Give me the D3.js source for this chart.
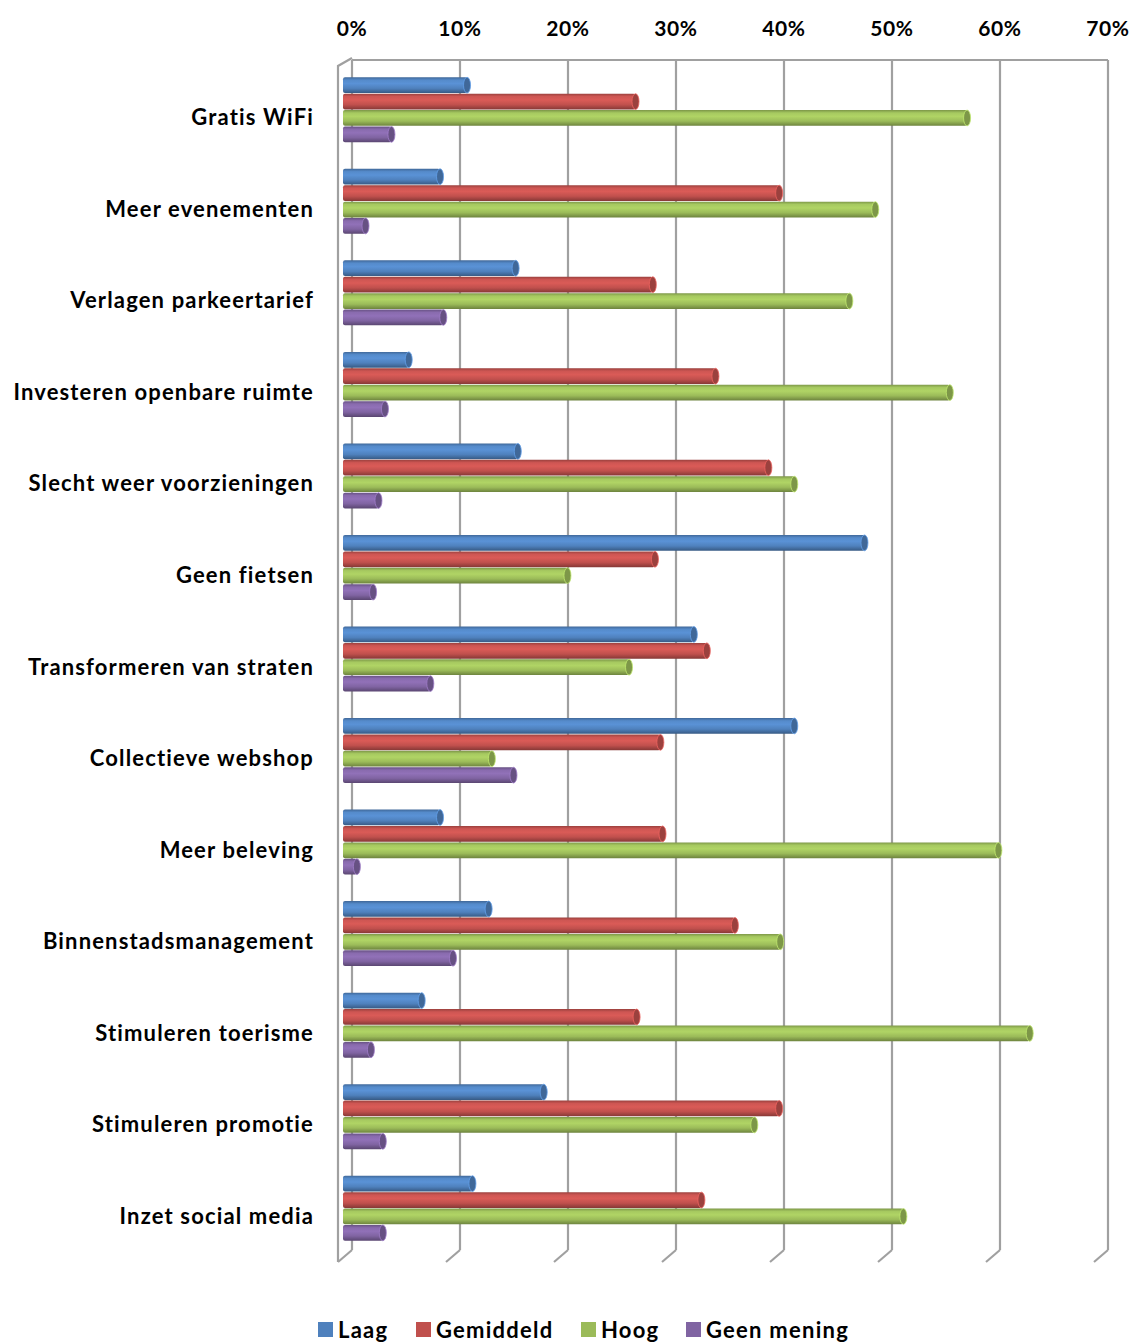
<!DOCTYPE html>
<html>
<head>
<meta charset="utf-8">
<script src="https://cdn.jsdelivr.net/npm/d3@7"></script>
<style>
  html, body { margin: 0; padding: 0; background: #fff; }
  svg { display: block; }
  text { font-family: Lato, "Open Sans", sans-serif; font-weight: 700; fill: #000; }
</style>
</head>
<body>
<svg id="chart" width="1135" height="1342"></svg>
<script>
const categories = [
  "Gratis WiFi", "Meer evenementen", "Verlagen parkeertarief",
  "Investeren openbare ruimte", "Slecht weer voorzieningen", "Geen fietsen",
  "Transformeren van straten", "Collectieve webshop", "Meer beleving",
  "Binnenstadsmanagement", "Stimuleren toerisme", "Stimuleren promotie",
  "Inzet social media"
];
const seriesNames = ["Laag", "Gemiddeld", "Hoog", "Geen mening"];
const seriesColors = ["#4F81BD", "#C0504D", "#9BBB59", "#8064A2"];
const laag       = [11.3,  8.8, 15.8,  5.9, 16.0, 48.1, 32.3, 41.6,  8.8, 13.3,  7.1, 18.4, 11.8];
const gemiddeld  = [26.9, 40.2, 28.5, 34.3, 39.2, 28.7, 33.5, 29.2, 29.4, 36.1, 27.0, 40.2, 33.0];
const hoog       = [57.6, 49.1, 46.7, 56.0, 41.6, 20.6, 26.3, 13.6, 60.5, 40.3, 63.4, 37.9, 51.7];
const geenMening = [ 4.3,  1.9,  9.1,  3.7,  3.1,  2.6,  7.9, 15.6,  1.1, 10.0,  2.4,  3.5,  3.5];
const tickValues = [0, 10, 20, 30, 40, 50, 60, 70];
const tickLabels = ["0%", "10%", "20%", "30%", "40%", "50%", "60%", "70%"];

const seriesValues = [laag, gemiddeld, hoog, geenMening];

const svg = d3.select("#chart");
const defs = svg.append("defs");

// 3D wall geometry
const backTop = 60, backBottom = 1250;
const depthDx = -14, depthDy = 12;

// scales
const xBack = d3.scaleLinear().domain([0, 70]).range([352, 1108]);
const xBar = d3.scaleLinear().domain([0, 70]).range([345, 1101]);
const y0 = d3.scaleBand().domain(categories).range([64, 1254]).paddingInner(0.29).paddingOuter(0.145);
const y1 = d3.scaleBand().domain(seriesNames).range([0, y0.bandwidth()]).paddingInner(0.04);
const color = d3.scaleOrdinal().domain(seriesNames).range(seriesColors);

// gradients (cylinder shading)
seriesNames.forEach((s, i) => {
  const c = d3.color(seriesColors[i]);
  const g = defs.append("linearGradient").attr("id", "grad" + i)
    .attr("x1", 0).attr("y1", 0).attr("x2", 0).attr("y2", 1);
  g.append("stop").attr("offset", "0%").attr("stop-color", c.darker(0.6));
  g.append("stop").attr("offset", "18%").attr("stop-color", c.brighter(0.2));
  g.append("stop").attr("offset", "40%").attr("stop-color", c.brighter(0.35));
  g.append("stop").attr("offset", "70%").attr("stop-color", c);
  g.append("stop").attr("offset", "100%").attr("stop-color", c.darker(1.0));
});

const grid = svg.append("g").attr("stroke", "#A0A0A0").attr("stroke-width", 2.2).attr("fill", "none");
grid.append("line").attr("x1", xBack(0)).attr("x2", xBack(70)).attr("y1", backTop).attr("y2", backTop);
grid.selectAll("line.v").data(tickValues).join("line").attr("class", "v")
  .attr("x1", d => xBack(d)).attr("x2", d => xBack(d))
  .attr("y1", backTop).attr("y2", backBottom);
grid.selectAll("line.f").data(tickValues).join("line").attr("class", "f")
  .attr("x1", d => xBack(d)).attr("x2", d => xBack(d) + depthDx)
  .attr("y1", backBottom).attr("y2", backBottom + depthDy);
grid.append("path")
  .attr("d", `M${xBack(0)},${backTop - 2} L${xBack(0) + depthDx},${backTop + 6} L${xBack(0) + depthDx},${backBottom + depthDy}`);

// top axis labels
svg.append("g").selectAll("text").data(tickValues).join("text")
  .attr("x", d => xBack(d)).attr("y", 27)
  .attr("text-anchor", "middle").attr("dominant-baseline", "central")
  .attr("font-size", 21).attr("letter-spacing", 0.6)
  .text((d, i) => tickLabels[i]);

// bars
const groups = svg.append("g").selectAll("g").data(categories).join("g")
  .attr("transform", d => `translate(0,${y0(d)})`);

groups.each(function(cat, ci) {
  const g = d3.select(this);
  seriesNames.forEach((s, si) => {
    const v = seriesValues[si][ci];
    const y = y1(s), h = y1.bandwidth();
    const x0 = xBar(0) - 2, x1 = xBar(v);
    const c = d3.color(seriesColors[si]);
    g.append("rect").attr("x", x0).attr("y", y).attr("width", Math.max(0, x1 - x0)).attr("height", h)
      .attr("rx", 2).attr("fill", `url(#grad${si})`);
    g.append("ellipse").attr("cx", x1).attr("cy", y + h / 2).attr("rx", 3.5).attr("ry", h / 2)
      .attr("fill", c.darker(0.6)).attr("stroke", c.brighter(0.6)).attr("stroke-width", 0.8);
  });
});

// category labels
svg.append("g").selectAll("text").data(categories).join("text")
  .attr("x", 314).attr("y", d => y0(d) + y0.bandwidth() / 2 + 7)
  .attr("text-anchor", "end").attr("dominant-baseline", "central")
  .attr("font-size", 22).attr("letter-spacing", 1.15)
  .text(d => d);

// legend
const legendX = [318, 416, 581, 686];
const legend = svg.append("g").selectAll("g").data(seriesNames).join("g")
  .attr("transform", (d, i) => `translate(${legendX[i]},1322)`);
legend.append("rect").attr("width", 15).attr("height", 15).attr("fill", d => color(d));
legend.append("text").attr("x", 20).attr("y", 16).attr("font-size", 22).attr("letter-spacing", 1.25).text(d => d);
</script>
</body>
</html>
